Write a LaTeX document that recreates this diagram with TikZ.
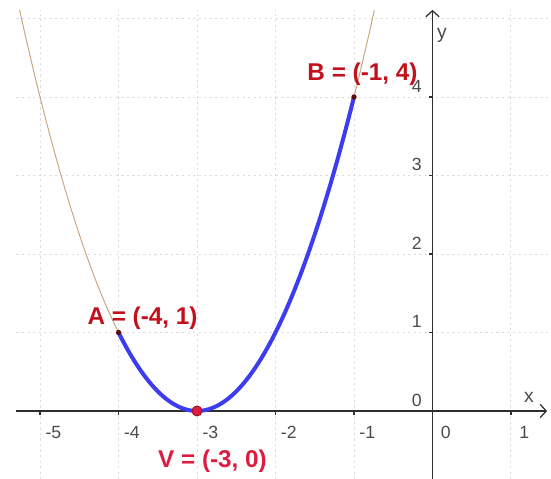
\documentclass[tikz,border=0pt]{standalone}
\usepackage{fontspec}
\setmainfont{Liberation Sans}
\usetikzlibrary{arrows.meta}
\definecolor{gridgray}{HTML}{DCDCDC}
\definecolor{axisgray}{HTML}{2E2E2E}
\definecolor{labelgray}{HTML}{4A4A4A}
\definecolor{curvetan}{HTML}{C9A57E}
\definecolor{arcblue}{HTML}{3C3CF0}
\definecolor{ptred}{HTML}{C2101C}
\definecolor{vred}{HTML}{DC1C40}
\definecolor{ptdark}{HTML}{5C0C0C}

\tikzset{
  gridline/.style={gridgray, line width=0.35pt, dash pattern=on 0.8pt off 1.2pt},
  axisline/.style={axisgray, line width=0.45pt, -{Straight Barb[length=2.2pt,width=4.8pt]}},
  ticklabel/.style={font=\fontsize{6.4}{7}\selectfont, text=labelgray, inner sep=0pt},
  ptlabel/.style={font=\fontsize{8.8}{10}\selectfont\bfseries, inner sep=0pt},
}

\begin{document}
\begin{tikzpicture}[x=1cm, y=1cm]
    \useasboundingbox (-5.51,-0.866) rectangle (1.51,5.236);

    % Grid
    \foreach \x in {-5,...,1} {
        \draw[gridline] (\x,-0.87) -- (\x,5.11);
    }
    \foreach \y in {1,...,5} {
        \draw[gridline] (-5.3,\y) -- (1.51,\y);
    }

    % Axes
    \draw[axisline] (-5.3,0) -- (1.46,0);
    \draw[axisline] (0,-0.87) -- (0,5.11);
    \node[ticklabel, font=\fontsize{7}{8}\selectfont] (xname) at (1.23,0.17) {x};
    \node[ticklabel, font=\fontsize{7}{8}\selectfont] (yname) at (0.12,4.78) {y};

    % Ticks and labels
    \foreach \x in {-5,...,1} {
        \draw[axisgray, line width=0.4pt] (\x,0) -- (\x,-0.05);
        \node[ticklabel] (xtick\x) at (\x+0.17,-0.27) {\x};
    }
    \foreach \y in {0,...,4} {
        \draw[axisgray, line width=0.4pt] (0,\y) -- (-0.05,\y);
        \node[ticklabel] (ytick\y) at (-0.2,\y+0.14) {\y};
    }

    % Parabola y = (x+3)^2
    \draw[curvetan, line width=0.35pt] plot[domain=-5.26:-0.74, samples=80] (\x,{(\x+3)^2});
    \draw[arcblue, line width=1.45pt] plot[domain=-4:-1, samples=80] (\x,{(\x+3)^2});

    % Points
    \coordinate (A) at (-4,1);
    \coordinate (B) at (-1,4);
    \coordinate (V) at (-3,0);
    \fill[ptdark] (A) circle (0.034);
    \fill[ptdark] (B) circle (0.034);
    \filldraw[fill=vred, draw=ptred!80!black, line width=0.3pt] (V) circle (0.064);

    \node[ptlabel, text=ptred] (Alabel) at (-3.694,1.178) {A = (-4, 1)};
    \node[ptlabel, text=ptred] (Blabel) at (-0.892,4.293) {B = (-1, 4)};
    \node[ptlabel, text=vred] (Vlabel) at (-2.803,-0.637) {V = (-3, 0)};

\end{tikzpicture}
\end{document}
